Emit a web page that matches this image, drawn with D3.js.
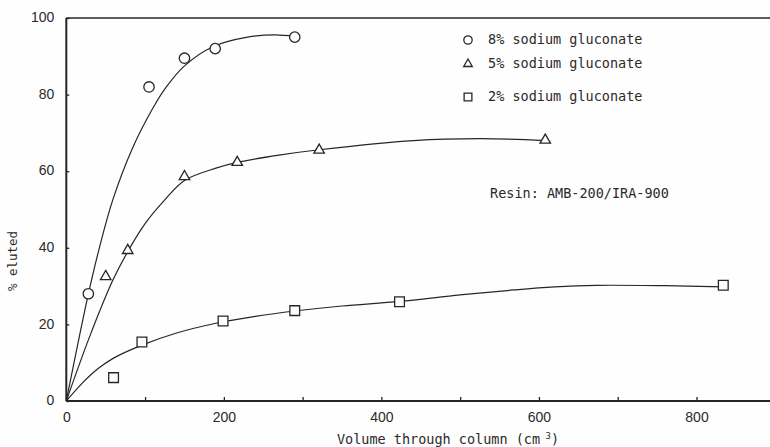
<!DOCTYPE html>
<html>
<head>
<meta charset="utf-8">
<script src="https://cdn.jsdelivr.net/npm/d3@7"></script>
<style>
  body { margin: 0; background: #fefefe; }
  svg { display: block; }
  .mono { font-family: "DejaVu Sans Mono", monospace; fill: #2a2a2a; }
  .tick-label { font-family: "Liberation Sans", Arial, sans-serif; font-size: 14px; fill: #2a2a2a; }
</style>
</head>
<body>
<svg id="chart"></svg>
<script>
// measured points, % eluted vs volume (cm3)
const vol8 = [28, 105, 150, 189, 290];
const pct8 = [28, 82, 89.5, 92, 95];
const vol5 = [50, 78, 150, 217, 321, 608];
const pct5 = [32.5, 39.3, 58.6, 62.3, 65.5, 68.1];
const vol2 = [60, 96, 199, 290, 423, 834];
const pct2 = [6.1, 15.4, 20.9, 23.6, 25.9, 30.2];

// hand-drawn fit curves
const fitVol8 = [0, 27, 42, 59, 84, 110, 127, 150, 186, 230, 265, 290];
const fitPct8 = [0, 27, 40, 52.5, 66, 76.5, 82, 87.5, 92.5, 95, 95.6, 95.2];
const fitVol5 = [0, 30, 59, 78, 100, 125, 150, 190, 217, 270, 321, 441, 526, 608];
const fitPct5 = [0, 17, 31.5, 39, 46.3, 52.5, 57.6, 60.8, 62.3, 64.2, 65.6, 68, 68.5, 68];
const fitVol2 = [0, 20, 40, 60, 96, 139, 190, 240, 290, 350, 423, 500, 568, 620, 673, 760, 834];
const fitPct2 = [0, 4.6, 8.4, 11.2, 14.6, 17.7, 20.3, 22.1, 23.5, 24.8, 26, 27.7, 29, 29.8, 30.2, 30.1, 29.8];

const legendLabels = ["8% sodium gluconate", "5% sodium gluconate", "2% sodium gluconate"];
const xTicks = [0, 100, 200, 300, 400, 500, 600, 700, 800, 900];
const yTicks = [0, 20, 40, 60, 80, 100];

const width = 770, height = 447;
const ink = "#262626";

const svg = d3.select("#chart").attr("width", width).attr("height", height);

const x = d3.scaleLinear().domain([0, 800]).range([66.3, 696.5]);
const y = d3.scaleLinear().domain([0, 100]).range([401, 18]);

// frame: left axis, bottom axis, top line
svg.append("line").attr("x1", x(0)).attr("x2", width).attr("y1", y(0)).attr("y2", y(0))
  .attr("stroke", ink).attr("stroke-width", 2);
svg.append("line").attr("x1", x(0)).attr("x2", x(0)).attr("y1", y(0)).attr("y2", y(100))
  .attr("stroke", ink).attr("stroke-width", 2);
svg.append("line").attr("x1", x(0)).attr("x2", width).attr("y1", y(100)).attr("y2", y(100))
  .attr("stroke", ink).attr("stroke-width", 1.5);

// x axis ticks (inward) and labels
const xAxis = d3.axisBottom(x).tickValues(xTicks).tickSizeInner(-4).tickSizeOuter(0)
  .tickFormat(d => d % 200 === 0 ? d : "");
const gx = svg.append("g").attr("transform", `translate(0,${y(0)})`).call(xAxis);
gx.select(".domain").remove();
gx.selectAll(".tick line").attr("stroke", ink).attr("stroke-width", 1.3);
gx.selectAll(".tick text").attr("class", "tick-label").attr("dy", null).attr("y", 17)
  .attr("dominant-baseline", "middle");

// y axis ticks (inward) and labels
const yAxis = d3.axisLeft(y).tickValues(yTicks).tickSizeInner(-3).tickSizeOuter(0).tickPadding(12);
const gy = svg.append("g").attr("transform", `translate(${x(0)},0)`).call(yAxis);
gy.select(".domain").remove();
gy.selectAll(".tick line").attr("stroke", ink).attr("stroke-width", 1.3);
gy.selectAll(".tick text").attr("class", "tick-label").attr("dy", null)
  .attr("dominant-baseline", "middle");

// axis titles
const xt = svg.append("text").attr("class", "mono").attr("x", 448).attr("y", 444)
  .attr("text-anchor", "middle").style("font-size", "13.5px");
xt.append("tspan").text("Volume through column (cm");
xt.append("tspan").attr("dy", -5).style("font-size", "9px").text(" 3");
xt.append("tspan").attr("dy", 5).text(")");

svg.append("text").attr("class", "mono")
  .attr("transform", "translate(17,261) rotate(-90)")
  .attr("text-anchor", "middle").style("font-size", "12.5px").text("% eluted");

// fit curves
const line = d3.line().x(d => x(d[0])).y(d => y(d[1])).curve(d3.curveCatmullRom.alpha(0.5));
const fits = [
  d3.zip(fitVol8, fitPct8),
  d3.zip(fitVol5, fitPct5),
  d3.zip(fitVol2, fitPct2)
];
svg.append("g").selectAll("path").data(fits).join("path")
  .attr("d", line).attr("fill", "none").attr("stroke", ink).attr("stroke-width", 1.2);

// marker shapes
const markerStyle = sel => sel.attr("fill", "#fefefe").attr("stroke", ink).attr("stroke-width", 1.3);
const circleSym = d3.symbol().type(d3.symbolCircle).size(85);
const triSym = d3.symbol().type(d3.symbolTriangle).size(48);
const sqSym = d3.symbol().type(d3.symbolSquare).size(95);

const series = [
  { xs: vol8, ys: pct8, sym: circleSym },
  { xs: vol5, ys: pct5, sym: triSym },
  { xs: vol2, ys: pct2, sym: sqSym }
];
series.forEach(s => {
  svg.append("g").selectAll("path").data(d3.zip(s.xs, s.ys)).join("path")
    .attr("transform", d => `translate(${x(d[0])},${y(d[1])})`)
    .attr("d", s.sym())
    .call(markerStyle);
});

// legend
const legendY = [40, 64, 97];
const legendSyms = [
  d3.symbol().type(d3.symbolCircle).size(55),
  d3.symbol().type(d3.symbolTriangle).size(32),
  d3.symbol().type(d3.symbolSquare).size(60)
];
legendLabels.forEach((lab, i) => {
  svg.append("path").attr("transform", `translate(468,${legendY[i]})`)
    .attr("d", legendSyms[i]()).call(markerStyle);
  svg.append("text").attr("class", "mono").attr("x", 488).attr("y", legendY[i])
    .attr("dominant-baseline", "middle").style("font-size", "13.5px").text(lab);
});

svg.append("text").attr("class", "mono").attr("x", 490).attr("y", 194)
  .attr("dominant-baseline", "middle").style("font-size", "13.5px").text("Resin: AMB-200/IRA-900");
</script>
</body>
</html>
